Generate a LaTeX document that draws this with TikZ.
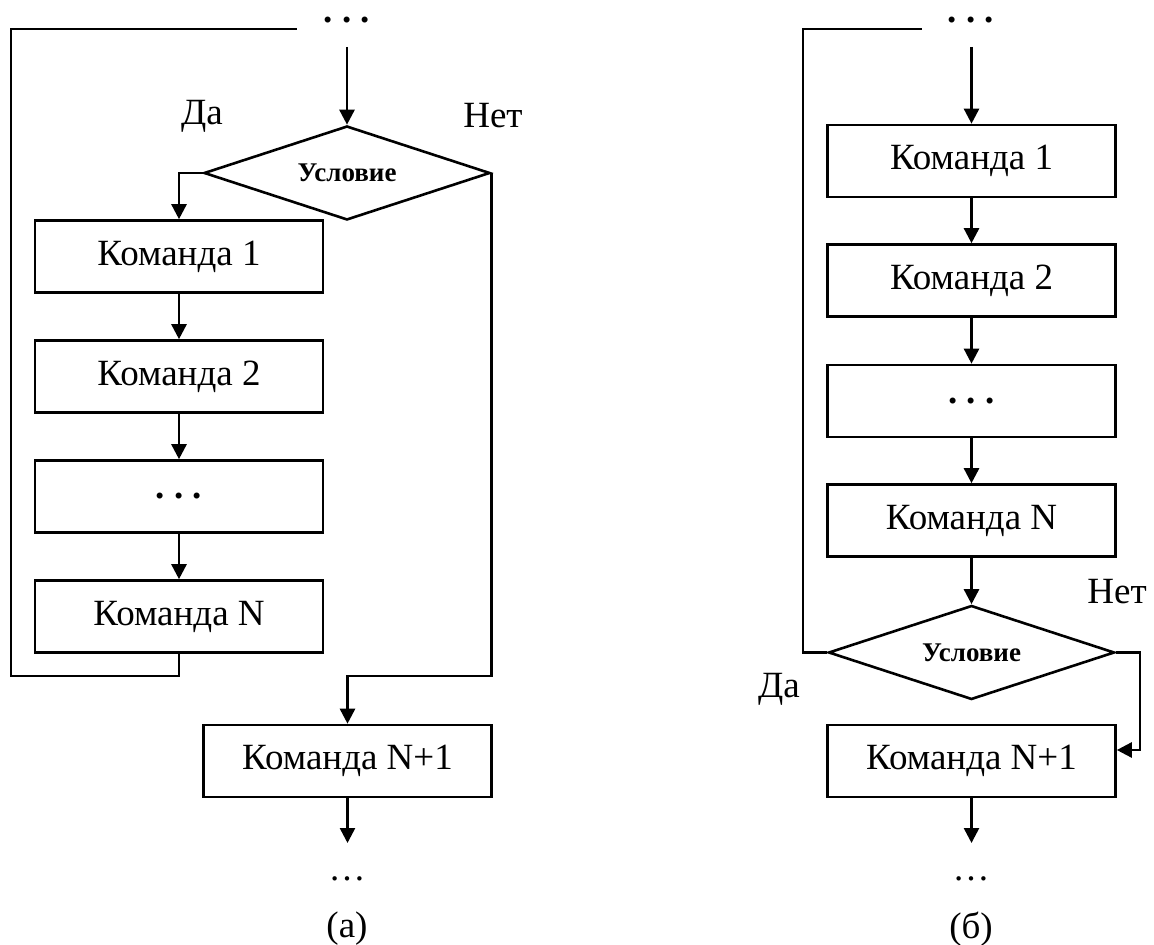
\documentclass[tikz,border=0pt]{standalone}
\usepackage{fontspec}
\setmainfont{Liberation Serif}
\usetikzlibrary{arrows.meta,shapes.geometric}

\begin{document}
\begin{tikzpicture}[x=0.5pt,y=-0.5pt,line width=1.3pt,
	cmd/.style={draw,rectangle,minimum width=144pt,minimum height=36pt,inner sep=0pt,font=\fontsize{18.5}{22}\selectfont},
	cond/.style={draw,diamond,aspect=3,minimum width=143pt,minimum height=47pt,inner sep=0pt,font=\bfseries\fontsize{13.5}{16}\selectfont},
	lbl/.style={font=\fontsize{18.5}{22}\selectfont},
	dots/.style={anchor=base,inner sep=0pt,text height=4pt,text depth=0pt,font=\bfseries\fontsize{18.5}{22}\selectfont},
	arr/.style={-{Triangle[length=7.5pt,width=7.5pt]}}]
	\useasboundingbox (0,0) rectangle (1154,945);

	% (a)
	\node[dots] (topa) at (347,23) {.\ .\ .};
	\coordinate (ina) at (347,47);
	\node[cond] (conda) at (347,173) {Условие};
	\node[lbl] (daa) at (202,116) {Да};
	\node[lbl] (neta) at (493,116) {Нет};
	\node[cmd] (a1) at (179,256.5) {Команда 1};
	\node[cmd] (a2) at (179,376.5) {Команда 2};
	\node[cmd] (a3) at (179,496.5) {\textbf{.\ .\ .}};
	\node[cmd] (aN) at (179,616.5) {Команда N};
	\node[cmd] (aN1) at (347.5,761) {Команда N+1};
	\coordinate (loopa) at (11,676);
	\coordinate (enda) at (297,29);
	\coordinate (joina) at (490,676);
	\coordinate (outa) at (347.5,843);
	\node[lbl] (dotsa) at (347,879) {\ldots};
	\node[lbl] (capa) at (347,929) {(а)};

	\draw[arr] (ina) -- (conda.north);
	\draw[arr] (conda.west) -| (a1.north);
	\draw[arr] (a1) -- (a2);
	\draw[arr] (a2) -- (a3);
	\draw[arr] (a3) -- (aN);
	\draw (aN.south) |- (loopa) |- (enda);
	\draw[arr] (conda.east) |- (joina) -| (aN1.north);
	\draw[arr] (aN1) -- (outa);

	% (b)
	\node[dots] (topb) at (971,23) {.\ .\ .};
	\coordinate (inb) at (971.5,47);
	\node[cmd] (b1) at (971.5,161) {Команда 1};
	\node[cmd] (b2) at (971.5,280.5) {Команда 2};
	\node[cmd] (b3) at (971.5,401) {\textbf{.\ .\ .}};
	\node[cmd] (bN) at (971.5,520.5) {Команда N};
	\node[cond] (condb) at (971.5,652.5) {Условие};
	\node[lbl] (dab) at (779,689) {Да};
	\node[lbl] (netb) at (1117,592) {Нет};
	\node[cmd] (bN1) at (971.5,761) {Команда N+1};
	\coordinate (loopb) at (803,29);
	\coordinate (endb) at (922,29);
	\coordinate (joinb) at (1140,750);
	\coordinate (outb) at (971.5,843);
	\node[lbl] (dotsb) at (971,879) {\ldots};
	\node[lbl] (capb) at (971,929) {(б)};

	\draw[arr] (inb) -- (b1.north);
	\draw[arr] (b1) -- (b2);
	\draw[arr] (b2) -- (b3);
	\draw[arr] (b3) -- (bN);
	\draw[arr] (bN) -- (condb.north);
	\draw (condb.west) -| (loopb) -- (endb);
	\draw[arr] (condb.east) -| (joinb) -- (joinb -| bN1.east);
	\draw[arr] (bN1) -- (outb);
\end{tikzpicture}
\end{document}
